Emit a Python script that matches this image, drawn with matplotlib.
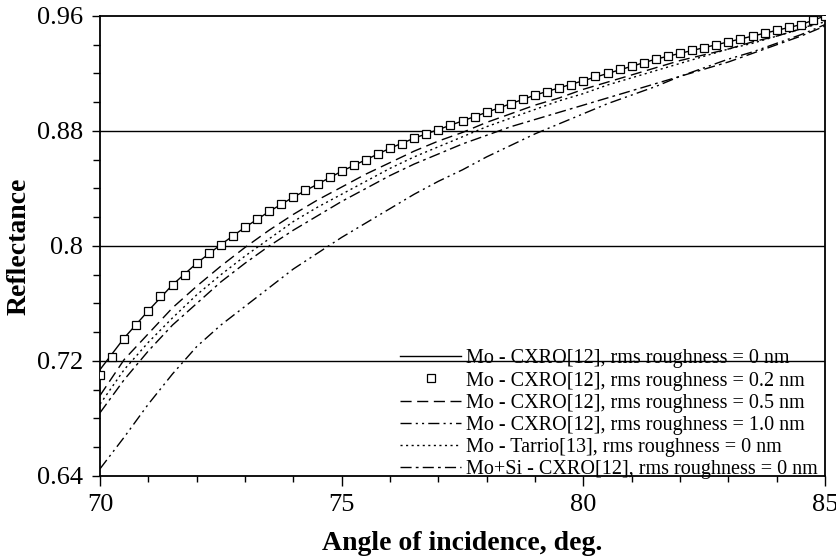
import numpy as np
import matplotlib
matplotlib.use("Agg")
import matplotlib.pyplot as plt
from matplotlib.ticker import MultipleLocator, FixedLocator

plt.rcParams['font.family'] = ['Liberation Serif', 'DejaVu Serif']

# Angle of incidence (deg), 0.5 deg grid for the lines
angle = np.arange(70.0, 85.01, 0.5)
# Angle grid for square markers (0.25 deg)
angle_sq = np.arange(70.0, 85.01, 0.25)

r_mo_0 = [0.714, 0.736, 0.755, 0.773, 0.788, 0.801, 0.813, 0.824, 0.834, 0.843,
          0.852, 0.860, 0.868, 0.875, 0.881, 0.887, 0.893, 0.899, 0.905, 0.910,
          0.915, 0.920, 0.925, 0.930, 0.934, 0.938, 0.942, 0.946, 0.950, 0.954, 0.960]

r_mo_02 = [0.710, 0.723, 0.735, 0.745, 0.755, 0.765, 0.773, 0.780, 0.788, 0.795,
           0.801, 0.807, 0.813, 0.819, 0.824, 0.829, 0.834, 0.839, 0.843, 0.848,
           0.852, 0.856, 0.860, 0.864, 0.868, 0.871, 0.875, 0.878, 0.881, 0.884,
           0.887, 0.890, 0.893, 0.896, 0.899, 0.902, 0.905, 0.907, 0.910, 0.912,
           0.915, 0.918, 0.920, 0.923, 0.925, 0.927, 0.930, 0.932, 0.934, 0.936,
           0.938, 0.940, 0.942, 0.944, 0.946, 0.948, 0.950, 0.952, 0.954, 0.957, 0.960]

r_mo_05 = [0.696, 0.721, 0.739, 0.757, 0.772, 0.786, 0.799, 0.811, 0.822, 0.832,
           0.841, 0.850, 0.858, 0.866, 0.873, 0.879, 0.886, 0.892, 0.898, 0.903,
           0.909, 0.914, 0.919, 0.924, 0.929, 0.933, 0.937, 0.942, 0.946, 0.951, 0.957]

r_mo_10 = [0.645, 0.667, 0.690, 0.711, 0.730, 0.745, 0.758, 0.771, 0.784, 0.795,
           0.806, 0.816, 0.826, 0.836, 0.845, 0.853, 0.862, 0.870, 0.878, 0.885,
           0.892, 0.899, 0.905, 0.911, 0.918, 0.924, 0.930, 0.935, 0.941, 0.947, 0.954]

r_tarrio = [0.690, 0.714, 0.733, 0.750, 0.766, 0.780, 0.793, 0.805, 0.817, 0.827,
            0.836, 0.845, 0.854, 0.862, 0.869, 0.876, 0.883, 0.889, 0.895, 0.901,
            0.906, 0.912, 0.917, 0.922, 0.927, 0.932, 0.937, 0.941, 0.946, 0.951, 0.956]

r_mosi = [0.684, 0.707, 0.727, 0.745, 0.760, 0.775, 0.788, 0.800, 0.811, 0.821,
          0.831, 0.840, 0.849, 0.857, 0.864, 0.871, 0.877, 0.883, 0.888, 0.893,
          0.898, 0.903, 0.908, 0.913, 0.918, 0.923, 0.928, 0.934, 0.940, 0.946, 0.953]

labels = ["Mo - CXRO[12], rms roughness = 0 nm",
          "Mo - CXRO[12], rms roughness = 0.2 nm",
          "Mo - CXRO[12], rms roughness = 0.5 nm",
          "Mo - CXRO[12], rms roughness = 1.0 nm",
          "Mo - Tarrio[13], rms roughness = 0 nm",
          "Mo+Si - CXRO[12], rms roughness = 0 nm"]

y_ticks = [0.64, 0.72, 0.8, 0.88, 0.96]
y_ticklabels = ["0.64", "0.72", "0.8", "0.88", "0.96"]
x_ticks = [70, 75, 80, 85]

fig = plt.figure(figsize=(8.37, 5.59), dpi=100)
ax = fig.add_axes([0.1195, 0.1485, 0.8662, 0.8229])

for yv in [0.72, 0.8, 0.88]:
    ax.axhline(yv, color='black', lw=1.0, zorder=1)

lw = 1.0
ax.plot(angle, r_mo_0, color='black', lw=lw, ls='-', label=labels[0], zorder=3)
ax.plot(angle_sq, r_mo_02, ls='none', marker='s', markersize=5.4,
        markerfacecolor='white', markeredgecolor='black', markeredgewidth=0.9,
        label=labels[1], zorder=4)
ax.plot(angle, r_mo_05, color='black', lw=lw, dashes=(8, 4), label=labels[2], zorder=3)
ax.plot(angle, r_mo_10, color='black', lw=lw, dashes=(8, 3, 1.5, 3, 1.5, 3), label=labels[3], zorder=3)
ax.plot(angle, r_tarrio, color='black', lw=lw, dashes=(1.5, 2.5), label=labels[4], zorder=3)
ax.plot(angle, r_mosi, color='black', lw=lw, dashes=(8, 3, 2, 3), label=labels[5], zorder=3)

ax.set_xlim(70, 85)
ax.set_ylim(0.64, 0.96)
ax.xaxis.set_major_locator(FixedLocator(x_ticks))
ax.xaxis.set_minor_locator(MultipleLocator(1))
ax.yaxis.set_major_locator(FixedLocator(y_ticks))
ax.set_yticklabels(y_ticklabels)
ax.yaxis.set_minor_locator(MultipleLocator(0.02))
ax.tick_params(axis='both', which='major', direction='out', length=6, width=1, labelsize=19, pad=6)
ax.tick_params(axis='x', which='minor', direction='out', length=4, width=1)
ax.tick_params(axis='y', which='minor', direction='out', length=5, width=1)
ax.tick_params(axis='x', which='major', length=7, pad=6)
for s in ax.spines.values():
    s.set_linewidth(1.3)

ax.set_xlabel("Angle of incidence, deg.", fontsize=20, fontweight='bold', labelpad=11)
ax.set_ylabel("Reflectance", fontsize=20, fontweight='bold', labelpad=4)

leg = ax.legend(loc='lower right', frameon=False, fontsize=14.5, handlelength=3.0,
                handletextpad=0.25, labelspacing=0.15, borderaxespad=0.0,
                bbox_to_anchor=(1.001, -0.024))

fig.savefig("out.png", dpi=100)
